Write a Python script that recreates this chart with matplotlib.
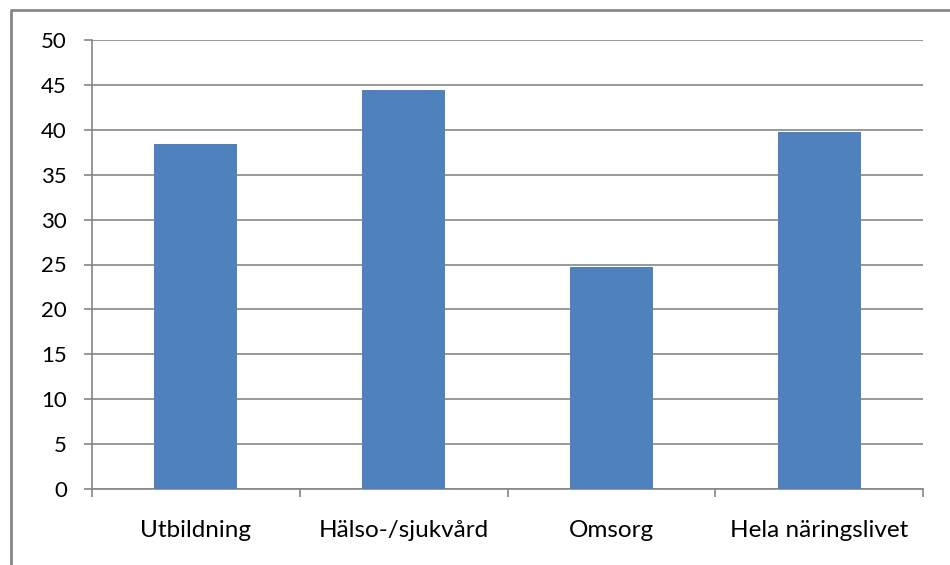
import matplotlib
matplotlib.use("Agg")
import matplotlib.pyplot as plt
from matplotlib.lines import Line2D
import numpy as np

categories = ["Utbildning", "Hälso-/sjukvård", "Omsorg", "Hela näringslivet"]
values = [38.4, 44.4, 24.7, 39.7]
yticks = [0, 5, 10, 15, 20, 25, 30, 35, 40, 45, 50]

plt.rcParams['font.family'] = ['Lato', 'DejaVu Sans']

W, H = 950, 565
fig = plt.figure(figsize=(W/100, H/100), dpi=100)
ax = fig.add_axes([92/W, 1-489/H, (923-92)/W, (489-40)/H])

x = np.arange(len(categories))
ax.bar(x, values, width=0.4, color="#4F81BD", zorder=3)
ax.set_xlim(-0.5, len(categories)-0.5)
ax.set_ylim(0, 50)
ax.set_yticks(yticks)
ax.set_yticklabels([str(v) for v in yticks], fontsize=16)
ax.grid(axis='y', color="#868686", linewidth=1.2, zorder=0)

ax.set_xticks(x)
ax.set_xticklabels(categories, fontsize=17.5)
ax.tick_params(axis='x', which='major', length=0, pad=22)
ax.set_xticks(np.arange(len(categories)+1)-0.5, minor=True)
ax.tick_params(axis='x', which='minor', length=6, width=1.2, color="#868686")
ax.tick_params(axis='y', length=6, width=1.2, color="#868686", pad=12)

for s in ['top', 'right']:
    ax.spines[s].set_visible(False)
for s in ['left', 'bottom']:
    ax.spines[s].set_color("#868686")
    ax.spines[s].set_linewidth(1.2)

fig.add_artist(Line2D([11/W, 11/W, 1.0], [0.0, 1-10/H, 1-10/H],
                      transform=fig.transFigure, color="#868686", linewidth=2))

fig.savefig("out.png", dpi=100)
